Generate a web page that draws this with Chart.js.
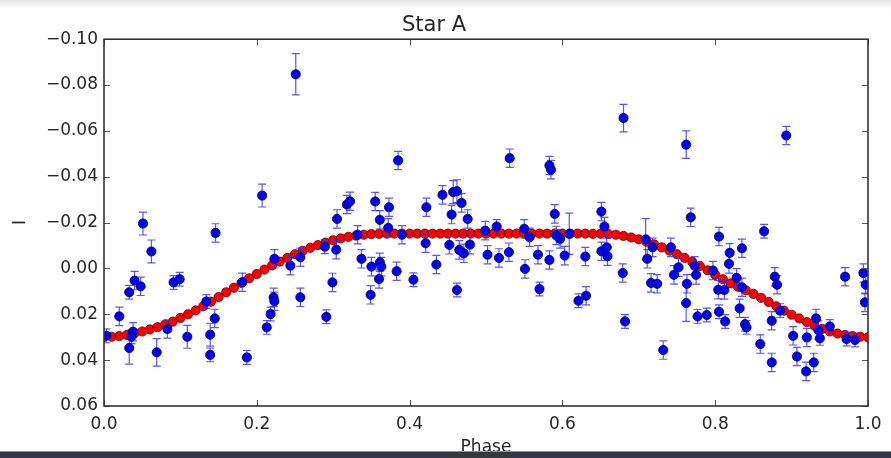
<!DOCTYPE html>
<html>
<head>
<meta charset="utf-8">
<title>Star A</title>
<script src="https://cdn.jsdelivr.net/npm/chart.js@4.4.1/dist/chart.umd.min.js"></script>
<style>
  html, body { margin: 0; padding: 0; background: #fff; overflow: hidden; }
  #wrap { position: relative; width: 891px; height: 458px; }
  #topShade { position: absolute; left: 0; top: 0; width: 891px; height: 9px;
    background: linear-gradient(#e4e4e4, #ffffff); }
  #bottomBar { position: absolute; left: 0; top: 451px; width: 891px; height: 7px;
    background: #2f3b44; border-top: 1px solid #8a949b; box-sizing: border-box; }
</style>
</head>
<body>
<div id="wrap">
  <canvas id="starChart" width="891" height="458"></canvas>
  <div id="topShade"></div>
  <div id="bottomBar"></div>
</div>
<script>
// Courbe de lumiere de "Star A" : mesures (bleu) + modele (rouge)

const xTicks = [0.0, 0.2, 0.4, 0.6, 0.8, 1.0];
const yTicks = [-0.10, -0.08, -0.06, -0.04, -0.02, 0.00, 0.02, 0.04, 0.06];

// mesures : phase, magnitude I, erreur
const obsPhase = [
  0.003, 0.020, 0.033, 0.040, 0.048, 0.051, 0.062, 0.091, 0.099, 0.146,
  0.134, 0.145, 0.038, 0.036, 0.033, 0.069, 0.083, 0.109, 0.139, 0.139,
  0.187, 0.181, 0.251, 0.207, 0.223, 0.222, 0.223, 0.218, 0.213, 0.244,
  0.257, 0.257, 0.289, 0.304, 0.291, 0.299, 0.305, 0.318, 0.322, 0.332,
  0.337, 0.349, 0.350, 0.361, 0.363, 0.360, 0.355, 0.361, 0.373, 0.372,
  0.385, 0.390, 0.383, 0.405, 0.421, 0.422, 0.435, 0.443, 0.455, 0.457,
  0.462, 0.468, 0.452, 0.462, 0.465, 0.471, 0.479, 0.476, 0.499, 0.502,
  0.514, 0.517, 0.530, 0.531, 0.550, 0.557, 0.551, 0.568, 0.570, 0.583,
  0.583, 0.585, 0.590, 0.592, 0.597, 0.609, 0.603, 0.621, 0.631, 0.630,
  0.651, 0.655, 0.651, 0.658, 0.659, 0.680, 0.679, 0.682, 0.709, 0.711,
  0.718, 0.716, 0.724, 0.732, 0.742, 0.746, 0.752, 0.762, 0.763, 0.762,
  0.768, 0.773, 0.775, 0.777, 0.789, 0.797, 0.805, 0.804, 0.812, 0.805,
  0.813, 0.818, 0.819, 0.828, 0.835, 0.835, 0.832, 0.839, 0.841, 0.859,
  0.864, 0.874, 0.874, 0.878, 0.881, 0.893, 0.885, 0.902, 0.907, 0.920,
  0.919, 0.929, 0.932, 0.935, 0.937, 0.950, 0.970, 0.972, 0.983, 0.994,
  0.997, 0.996
];
const obsMag = [
  0.0294, 0.0209, 0.0104, 0.0053, 0.0078, -0.0196, -0.0074, 0.0061, 0.0047, -0.0155,
  0.0144, 0.0218, 0.0276, 0.0298, 0.0347, 0.0366, 0.0264, 0.0298, 0.0289, 0.0377,
  0.0388, 0.0060, -0.0847, -0.0318, -0.0042, 0.0126, 0.0143, 0.0199, 0.0257, -0.0012,
  -0.0049, 0.0126, -0.0095, -0.0082, 0.0211, 0.0061, -0.0216, -0.0279, -0.0293, -0.0147,
  -0.0042, 0.0115, -0.0008, -0.0027, -0.0008, 0.0046, -0.0292, -0.0212, -0.0267, -0.0177,
  -0.0471, -0.0147, 0.0012, 0.0049, -0.0110, -0.0267, -0.0017, -0.0321, -0.0235, -0.0333,
  -0.0337, -0.0286, -0.0103, 0.0094, -0.0081, -0.0066, -0.0104, -0.0216, -0.0165, -0.0060,
  -0.0183, -0.0046, -0.0071, -0.0481, -0.0173, -0.0136, 0.0002, -0.0060, 0.0090, -0.0037,
  -0.0449, -0.0431, -0.0238, -0.0144, -0.0129, -0.0151, -0.0056, 0.0141, 0.0119, -0.0052,
  -0.0248, -0.0183, -0.0075, -0.0092, -0.0053, -0.0656, 0.0020, 0.0231, -0.0127, -0.0042,
  -0.0092, 0.0063, 0.0067, 0.0356, -0.0092, 0.0028, -0.0005, -0.0540, 0.0067, 0.0151,
  -0.0223, -0.0012, 0.0028, 0.0209, 0.0203, 0.0009, -0.0139, 0.0093, 0.0094, 0.0189,
  0.0231, -0.0020, -0.0068, 0.0041, -0.0088, 0.0082, 0.0174, 0.0243, 0.0257, 0.0330,
  -0.0162, 0.0410, 0.0228, 0.0036, 0.0071, -0.0580, 0.0184, 0.0294, 0.0384, 0.0301,
  0.0449, 0.0410, 0.0218, 0.0269, 0.0305, 0.0253, 0.0036, 0.0308, 0.0312, 0.0020,
  0.0071, 0.0148
];
const obsErr = [
  0.003, 0.004, 0.003, 0.004, 0.004, 0.005, 0.005, 0.003, 0.003, 0.004,
  0.003, 0.004, 0.004, 0.003, 0.007, 0.006, 0.004, 0.005, 0.005, 0.003,
  0.003, 0.004, 0.009, 0.005, 0.004, 0.004, 0.004, 0.003, 0.003, 0.004,
  0.004, 0.004, 0.003, 0.004, 0.003, 0.004, 0.004, 0.004, 0.004, 0.004,
  0.004, 0.004, 0.004, 0.004, 0.004, 0.004, 0.004, 0.004, 0.004, 0.004,
  0.004, 0.004, 0.004, 0.003, 0.004, 0.004, 0.004, 0.004, 0.004, 0.005,
  0.005, 0.004, 0.004, 0.003, 0.004, 0.004, 0.004, 0.004, 0.004, 0.004,
  0.003, 0.004, 0.004, 0.004, 0.004, 0.004, 0.004, 0.004, 0.003, 0.004,
  0.004, 0.004, 0.004, 0.004, 0.004, 0.009, 0.004, 0.003, 0.004, 0.004,
  0.004, 0.004, 0.004, 0.004, 0.004, 0.006, 0.004, 0.003, 0.009, 0.004,
  0.004, 0.004, 0.004, 0.004, 0.004, 0.004, 0.004, 0.006, 0.004, 0.008,
  0.004, 0.004, 0.004, 0.003, 0.003, 0.004, 0.004, 0.004, 0.004, 0.003,
  0.003, 0.004, 0.004, 0.004, 0.004, 0.004, 0.004, 0.003, 0.003, 0.004,
  0.003, 0.004, 0.004, 0.004, 0.004, 0.004, 0.003, 0.004, 0.004, 0.004,
  0.004, 0.004, 0.004, 0.004, 0.003, 0.003, 0.004, 0.003, 0.003, 0.004,
  0.004, 0.004
];

// modele (points rouges)
const modelPhase = [
  0.00, 0.01, 0.02, 0.03, 0.04, 0.05, 0.06, 0.07, 0.08, 0.09,
  0.10, 0.11, 0.12, 0.13, 0.14, 0.15, 0.16, 0.17, 0.18, 0.19,
  0.20, 0.21, 0.22, 0.23, 0.24, 0.25, 0.26, 0.27, 0.28, 0.29,
  0.30, 0.31, 0.32, 0.33, 0.34, 0.35, 0.36, 0.37, 0.38, 0.39,
  0.40, 0.41, 0.42, 0.43, 0.44, 0.45, 0.46, 0.47, 0.48, 0.49,
  0.50, 0.51, 0.52, 0.53, 0.54, 0.55, 0.56, 0.57, 0.58, 0.59,
  0.60, 0.61, 0.62, 0.63, 0.64, 0.65, 0.66, 0.67, 0.68, 0.69,
  0.70, 0.71, 0.72, 0.73, 0.74, 0.75, 0.76, 0.77, 0.78, 0.79,
  0.80, 0.81, 0.82, 0.83, 0.84, 0.85, 0.86, 0.87, 0.88, 0.89,
  0.90, 0.91, 0.92, 0.93, 0.94, 0.95, 0.96, 0.97, 0.98, 0.99,
  1.00
];
const modelMag = [
  0.0298, 0.0298, 0.0295, 0.0290, 0.0283, 0.0275, 0.0266, 0.0256, 0.0245, 0.0232,
  0.0216, 0.0200, 0.0183, 0.0165, 0.0145, 0.0125, 0.0104, 0.0084, 0.0063, 0.0043,
  0.0024, 0.0005, -0.0013, -0.0030, -0.0046, -0.0062, -0.0077, -0.0090, -0.0102, -0.0113,
  -0.0123, -0.0131, -0.0138, -0.0143, -0.0147, -0.0150, -0.0151, -0.0152, -0.0152, -0.0152,
  -0.0152, -0.0152, -0.0152, -0.0152, -0.0152, -0.0152, -0.0152, -0.0152, -0.0152, -0.0152,
  -0.0152, -0.0152, -0.0152, -0.0152, -0.0152, -0.0152, -0.0152, -0.0152, -0.0152, -0.0152,
  -0.0152, -0.0152, -0.0152, -0.0152, -0.0151, -0.0151, -0.0150, -0.0147, -0.0142, -0.0135,
  -0.0127, -0.0117, -0.0105, -0.0092, -0.0078, -0.0062, -0.0046, -0.0029, -0.0011, 0.0008,
  0.0027, 0.0047, 0.0065, 0.0080, 0.0095, 0.0111, 0.0128, 0.0146, 0.0165, 0.0184,
  0.0202, 0.0218, 0.0234, 0.0250, 0.0264, 0.0275, 0.0284, 0.0290, 0.0295, 0.0298,
  0.0300
];

const fontFamily = "'DejaVu Sans', 'Liberation Sans', sans-serif";
const textColor = '#262626';

function fmtMinus(str) {
  return str.replace('-', '\u2212');
}

// barres d'erreur, dessinees apres le modele et sous les points bleus
const errorBarPlugin = {
  id: 'errorBars',
  afterDatasetDraw(chart, args) {
    if (args.index !== 1) return;
    const ctx = chart.ctx;
    const xs = chart.scales.x;
    const ys = chart.scales.y;
    const area = chart.chartArea;
    ctx.save();
    ctx.beginPath();
    ctx.rect(area.left, area.top, area.right - area.left, area.bottom - area.top);
    ctx.clip();
    ctx.strokeStyle = 'rgba(45, 45, 235, 0.8)';
    ctx.lineWidth = 1.2;
    const cap = 4;
    for (let i = 0; i < obsPhase.length; i++) {
      const px = xs.getPixelForValue(obsPhase[i]);
      const y1 = ys.getPixelForValue(obsMag[i] - obsErr[i]);
      const y2 = ys.getPixelForValue(obsMag[i] + obsErr[i]);
      ctx.beginPath();
      ctx.moveTo(px, y1); ctx.lineTo(px, y2);
      ctx.moveTo(px - cap, y1); ctx.lineTo(px + cap, y1);
      ctx.moveTo(px - cap, y2); ctx.lineTo(px + cap, y2);
      ctx.stroke();
    }
    ctx.restore();
  }
};

// cadre et graduations vers l'interieur (style matplotlib)
const frameTicksPlugin = {
  id: 'frameTicks',
  afterDraw(chart) {
    const ctx = chart.ctx;
    const xs = chart.scales.x;
    const ys = chart.scales.y;
    const { left, right, top, bottom } = chart.chartArea;
    const len = 6;
    ctx.save();
    ctx.strokeStyle = '#555';
    ctx.lineWidth = 1;
    ctx.beginPath();
    xTicks.forEach(v => {
      const px = Math.round(xs.getPixelForValue(v)) + 0.5;
      ctx.moveTo(px, bottom); ctx.lineTo(px, bottom - len);
      ctx.moveTo(px, top); ctx.lineTo(px, top + len);
    });
    yTicks.forEach(v => {
      const py = Math.round(ys.getPixelForValue(v)) + 0.5;
      ctx.moveTo(left, py); ctx.lineTo(left + len, py);
      ctx.moveTo(right, py); ctx.lineTo(right - len, py);
    });
    ctx.stroke();
    ctx.strokeStyle = '#333';
    ctx.lineWidth = 1.6;
    ctx.strokeRect(left, top, right - left, bottom - top);
    ctx.restore();
  }
};

const canvas = document.getElementById('starChart');
new Chart(canvas, {
  type: 'scatter',
  data: {
    datasets: [
      {
        label: 'Observations',
        data: obsPhase.map((p, i) => ({ x: p, y: obsMag[i] })),
        pointRadius: 4.6,
        pointHoverRadius: 4.6,
        backgroundColor: '#0000ff',
        borderColor: '#000040',
        borderWidth: 0.8,
        clip: 0
      },
      {
        label: 'Modele',
        data: modelPhase.map((p, i) => ({ x: p, y: modelMag[i] })),
        pointRadius: 4.6,
        pointHoverRadius: 4.6,
        backgroundColor: '#ff0000',
        borderColor: '#5a0000',
        borderWidth: 0.8,
        clip: 0
      }
    ]
  },
  options: {
    responsive: false,
    animation: false,
    events: [],
    layout: { padding: { left: 0, right: 23, top: 0, bottom: 0 } },
    scales: {
      x: {
        type: 'linear',
        min: 0,
        max: 1,
        grid: { display: false, drawTicks: false },
        border: { display: false },
        afterBuildTicks: scale => { scale.ticks = xTicks.map(v => ({ value: v })); },
        afterFit: scale => { scale.height = 52; },
        ticks: {
          padding: 8,
          autoSkip: false,
          maxRotation: 0,
          color: textColor,
          font: { family: fontFamily, size: 17 },
          callback: v => fmtMinus(Number(v).toFixed(1))
        },
        title: {
          display: true,
          text: 'Phase',
          color: textColor,
          font: { family: fontFamily, size: 17 },
          padding: { top: 0, bottom: 0 }
        }
      },
      y: {
        type: 'linear',
        reverse: true,
        min: -0.10,
        max: 0.06,
        grid: { display: false, drawTicks: false },
        border: { display: false },
        afterBuildTicks: scale => { scale.ticks = yTicks.map(v => ({ value: v })); },
        afterFit: scale => { scale.width = 104; },
        ticks: {
          padding: 6,
          autoSkip: false,
          color: textColor,
          font: { family: fontFamily, size: 17 },
          callback: v => fmtMinus(Number(v).toFixed(2))
        },
        title: {
          display: true,
          text: 'I',
          color: textColor,
          font: { family: fontFamily, size: 17 },
          padding: { top: 10, bottom: 0 }
        }
      }
    },
    plugins: {
      legend: { display: false },
      tooltip: { enabled: false },
      title: {
        display: true,
        text: 'Star A',
        color: textColor,
        font: { family: fontFamily, size: 21, weight: 'normal' },
        padding: { top: 13, bottom: 1 }
      }
    }
  },
  plugins: [errorBarPlugin, frameTicksPlugin]
});
</script>
</body>
</html>
